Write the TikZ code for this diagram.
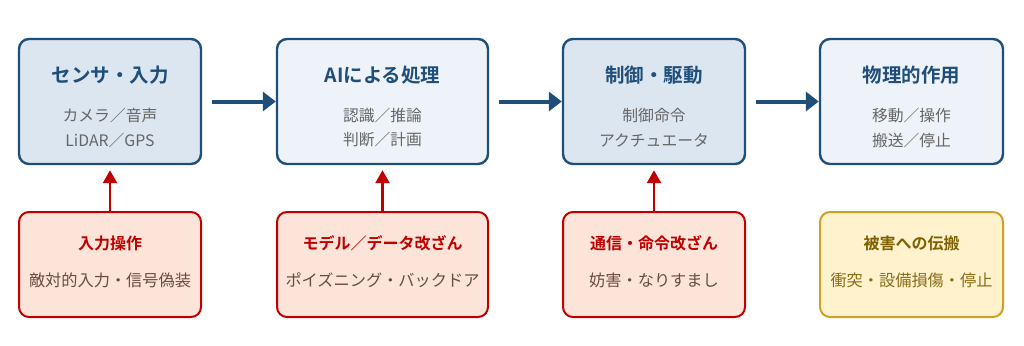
\documentclass[tikz,border=0pt]{standalone}
\usepackage{fontspec}
\setmainfont{Noto Sans CJK JP}
\newfontfamily\jpbold{Noto Sans CJK JP Bold}
\usetikzlibrary{arrows.meta}
\definecolor{bluedark}{HTML}{1F4E79}
\definecolor{bluefillA}{HTML}{DCE6F1}
\definecolor{bluefillB}{HTML}{EEF3FA}
\definecolor{subgray}{HTML}{666666}
\definecolor{redline}{HTML}{C00000}
\definecolor{redfill}{HTML}{FDE4D8}
\definecolor{redsub}{HTML}{6B4A44}
\definecolor{yelline}{HTML}{C9A227}
\definecolor{yelfill}{HTML}{FFF2CC}
\definecolor{yeltitle}{HTML}{7F6000}
\definecolor{yelsub}{HTML}{8A6D1A}
\tikzset{
  topbox/.style={draw=bluedark, line width=2.4pt, rounded corners=10pt, minimum height=125pt, inner sep=0pt},
  botbox/.style={line width=2pt, rounded corners=10pt, minimum height=105pt, inner sep=0pt},
  redbox/.style={botbox, draw=redline, fill=redfill},
  yelbox/.style={botbox, draw=yelline, fill=yelfill},
  toptitle/.style={text=bluedark, font=\jpbold\fontsize{19.5}{22}\selectfont, inner sep=0pt},
  topsub/.style={text=subgray, font=\fontsize{15.8}{18}\selectfont, inner sep=0pt},
  redtitle/.style={text=redline, font=\jpbold\fontsize{16}{18}\selectfont, inner sep=0pt},
  redsubtext/.style={text=redsub, font=\fontsize{16.2}{18}\selectfont, inner sep=0pt},
  yeltitletext/.style={text=yeltitle, font=\jpbold\fontsize{16}{18}\selectfont, inner sep=0pt},
  yelsubtext/.style={text=yelsub, font=\fontsize{16.2}{18}\selectfont, inner sep=0pt},
  flowarrow/.style={draw=bluedark, line width=4pt, -{Triangle[length=13pt,width=19pt]}},
  attackarrow/.style={draw=redline, line width=2.5pt, -{Triangle[length=13pt,width=14pt]}},
}
\begin{document}
\begin{tikzpicture}[x=1pt,y=-1pt]
\useasboundingbox[fill=white] (0,0) rectangle (1024,345);
% top boxes
\node[topbox, fill=bluefillA, minimum width=182pt] (s1) at (110,101.5) {};
\node[topbox, fill=bluefillB, minimum width=211pt] (s2) at (382.5,101.5) {};
\node[topbox, fill=bluefillA, minimum width=182pt] (s3) at (654,101.5) {};
\node[topbox, fill=bluefillB, minimum width=183pt] (s4) at (911.5,101.5) {};
% top texts
\node[toptitle] (t1) at (110,75) {センサ・入力};
\node[topsub] (t1a) at (110,115) {カメラ／音声};
\node[topsub] (t1b) at (110,140) {LiDAR／GPS};
\node[toptitle] (t2) at (382.5,75) {AIによる処理};
\node[topsub] (t2a) at (382.5,115) {認識／推論};
\node[topsub] (t2b) at (382.5,140) {判断／計画};
\node[toptitle] (t3) at (654,75) {制御・駆動};
\node[topsub] (t3a) at (654,115) {制御命令};
\node[topsub] (t3b) at (654,140) {アクチュエータ};
\node[toptitle] (t4) at (911.5,75) {物理的作用};
\node[topsub] (t4a) at (911.5,115) {移動／操作};
\node[topsub] (t4b) at (911.5,140) {搬送／停止};
% bottom boxes
\node[redbox, minimum width=182pt] (a1) at (110,264.5) {};
\node[redbox, minimum width=211pt] (a2) at (382.5,264.5) {};
\node[redbox, minimum width=182pt] (a3) at (654,264.5) {};
\node[yelbox, minimum width=183pt] (a4) at (911.5,264.5) {};
% bottom texts
\node[redtitle] (u1) at (110,243) {入力操作};
\node[redsubtext] (u1a) at (110,280) {敵対的入力・信号偽装};
\node[redtitle] (u2) at (382.5,243) {モデル／データ改ざん};
\node[redsubtext] (u2a) at (382.5,280) {ポイズニング・バックドア};
\node[redtitle] (u3) at (654,243) {通信・命令改ざん};
\node[redsubtext] (u3a) at (654,280) {妨害・なりすまし};
\node[yeltitletext] (u4) at (911.5,243) {被害への伝搬};
\node[yelsubtext] (u4a) at (911.5,280) {衝突・設備損傷・停止};
% flow arrows
\draw[flowarrow, shorten <=10pt] (s1.east) -- (s2.west);
\draw[flowarrow, shorten <=10pt] (s2.east) -- (s3.west);
\draw[flowarrow, shorten <=10pt] (s3.east) -- (s4.west);
% attack arrows
\draw[attackarrow, shorten >=5pt] (a1.north) -- (s1.south);
\draw[attackarrow, shorten >=5pt] (a2.north) -- (s2.south);
\draw[attackarrow, shorten >=5pt] (a3.north) -- (s3.south);
\end{tikzpicture}
\end{document}
